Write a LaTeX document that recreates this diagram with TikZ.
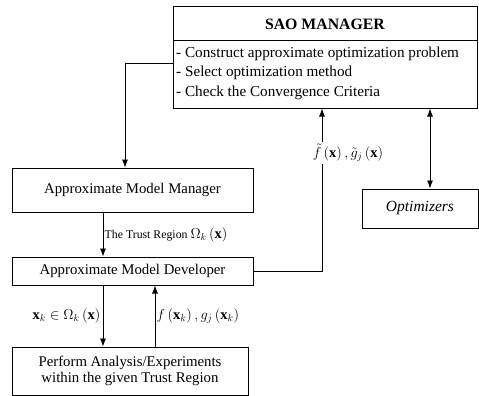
\documentclass[tikz,border=0pt]{standalone}
\usepackage{amsmath}
\usepackage{fontspec}
\setmainfont{Liberation Serif}
\usepackage{tikz}
\usetikzlibrary{calc, arrows.meta}

\begin{document}
\begin{tikzpicture}[x=1pt, y=-1pt, >={Latex[length=8pt, width=6pt]},
    box/.style={rectangle, draw=black, line width=1pt, inner sep=0pt},
    link/.style={line width=0.8pt},
    txt/.style={font=\fontsize{14.8}{17.5}\selectfont},
    mathlbl/.style={font=\fontsize{14.5}{17}\selectfont}]

        \useasboundingbox (0,0) rectangle (479,396);

        %% SAO manager
        \node (saohead) [box, minimum width=304pt, minimum height=34pt] at (325,24) {\fontsize{15.8}{18}\selectfont\textbf{SAO MANAGER}};
        \node (saobody) [box, minimum width=304pt, minimum height=67pt] at (325,74.5) {};
        \node (saotext) [anchor=west, inner sep=0pt, font=\fontsize{15.2}{19.5}\selectfont] at (176,73) {\begin{tabular}{@{}l@{}} - Construct approximate optimization problem \\ - Select optimization method \\ - Check the Convergence Criteria \end{tabular}};

        %% Boxes
        \node (amm) [box, txt, minimum width=241pt, minimum height=44pt] at (132.5,190) {Approximate Model Manager};
        \node (amd) [box, txt, minimum width=241pt, minimum height=28pt] at (132.5,271) {Approximate Model Developer};
        \node (perf) [box, txt, minimum width=236pt, minimum height=48pt, align=center] at (130,371) {Perform Analysis/Experiments \\[-1pt] within the given Trust Region};
        \node (opt) [box, minimum width=116pt, minimum height=39pt] at (420,208.5) {\fontsize{15.5}{18}\selectfont\textit{Optimizers}};

        %% columns of the arrows
        \coordinate (mgr) at (125,0);
        \coordinate (dn) at (103,0);
        \coordinate (up) at (155,0);
        \coordinate (fg) at (322,0);
        \coordinate (dbl) at (430,0);

        %% Arrows
        \draw [link, ->] (saobody.west |- 0,63) -| (amm.north -| mgr);
        \draw [link, ->] (amm.south -| dn) -- (amd.north -| dn) node [midway, right, xshift=-2pt, font=\fontsize{11.8}{14}\selectfont] {The Trust Region\ {\fontsize{14.5}{17}\selectfont$\Omega_k\left(\mathbf{x}\right)$}};
        \draw [link, ->] (amd.south -| dn) -- (perf.north -| dn) node [midway, left, xshift=1pt, mathlbl] {$\mathbf{x}_k \in \Omega_k\left(\mathbf{x}\right)$};
        \draw [link, ->] (perf.north -| up) -- (amd.south -| up) node [midway, right, xshift=-2pt, mathlbl] {$f\left(\mathbf{x}_k\right), g_j\left(\mathbf{x}_k\right)$};
        \draw [link, ->] (amd.east) -| (saobody.south -| fg);
        \draw [link, <->] (saobody.south -| dbl) -- (opt.north -| dbl);

        %% label on the way up
        \node (fglabel) [fill=white, inner sep=2pt, mathlbl] at (348,153) {$\tilde{f}\left(\mathbf{x}\right), \tilde{g}_j\left(\mathbf{x}\right)$};

\end{tikzpicture}
\end{document}
